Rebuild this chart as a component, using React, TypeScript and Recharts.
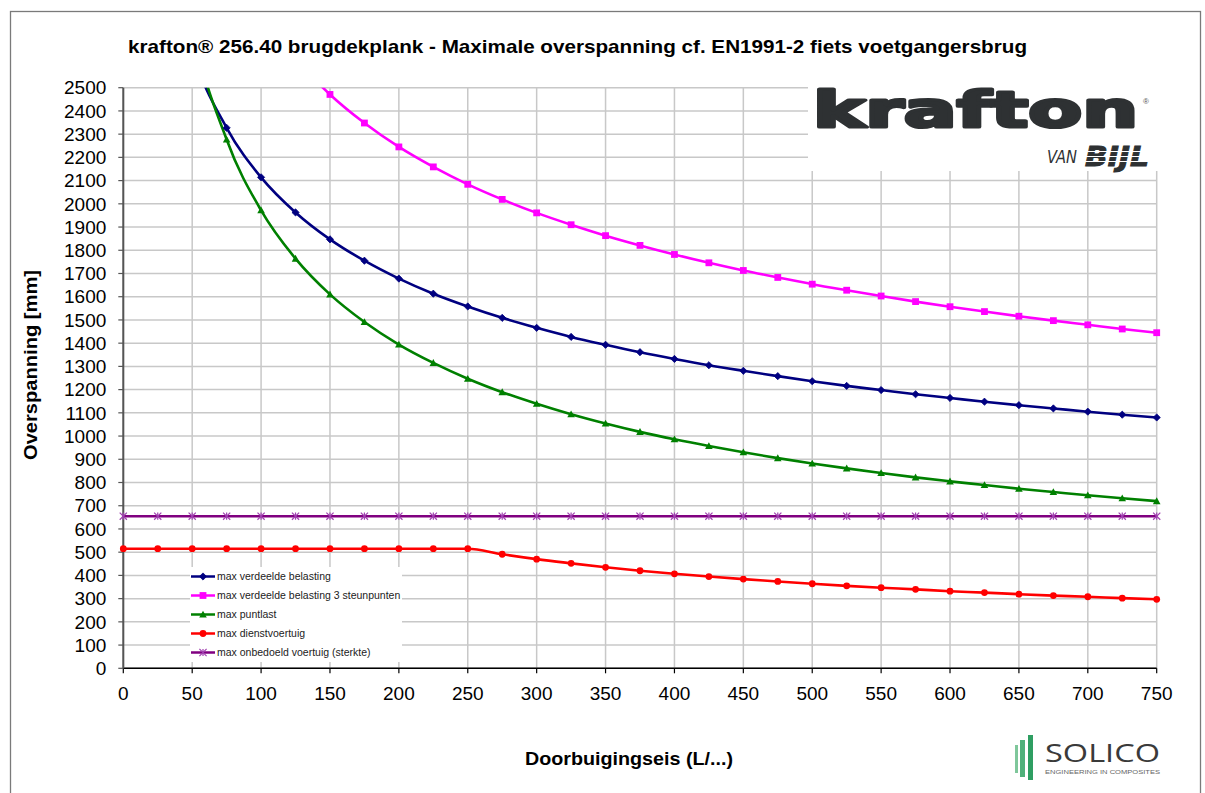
import React from 'react';
import { LineChart, Line, XAxis, YAxis, CartesianGrid, Legend } from 'recharts';

const xValues = [0, 25, 50, 75, 100, 125, 150, 175, 200, 225, 250, 275, 300, 325, 350, 375, 400, 425, 450, 475, 500, 525, 550, 575, 600, 625, 650, 675, 700, 725, 750];

const verdeeld = [null, 3356, 2664, 2327, 2114, 1963, 1847, 1755, 1678, 1613, 1558, 1509, 1466, 1427, 1393, 1361, 1332, 1305, 1281, 1258, 1236, 1216, 1198, 1180, 1164, 1148, 1133, 1119, 1105, 1092, 1080];
const verdeeld3 = [null, 4490, 3564, 3114, 2829, 2626, 2471, 2348, 2245, 2159, 2084, 2019, 1961, 1910, 1863, 1821, 1782, 1746, 1713, 1683, 1654, 1628, 1603, 1579, 1557, 1536, 1516, 1497, 1479, 1461, 1445];
const puntlast = [null, 3944, 2789, 2277, 1972, 1764, 1610, 1491, 1394, 1315, 1247, 1189, 1139, 1094, 1054, 1018, 986, 957, 930, 905, 882, 861, 841, 822, 805, 789, 773, 759, 745, 732, 720];
const dienstvoertuig = [515, 515, 515, 515, 515, 515, 515, 515, 515, 515, 515, 491, 470, 452, 435, 420, 407, 395, 384, 374, 364, 355, 347, 340, 332, 326, 319, 313, 308, 302, 297];
const onbedoeld = [655, 655, 655, 655, 655, 655, 655, 655, 655, 655, 655, 655, 655, 655, 655, 655, 655, 655, 655, 655, 655, 655, 655, 655, 655, 655, 655, 655, 655, 655, 655];

const xTicks = [0, 50, 100, 150, 200, 250, 300, 350, 400, 450, 500, 550, 600, 650, 700, 750];
const yTicks = [0, 100, 200, 300, 400, 500, 600, 700, 800, 900, 1000, 1100, 1200, 1300, 1400, 1500, 1600, 1700, 1800, 1900, 2000, 2100, 2200, 2300, 2400, 2500];

const seriesNames = {
  verdeeld: 'max verdeelde belasting',
  verdeeld3: 'max verdeelde belasting 3 steunpunten',
  puntlast: 'max puntlast',
  dienstvoertuig: 'max dienstvoertuig',
  onbedoeld: 'max onbedoeld voertuig (sterkte)',
};

const data = xValues.map((x, i) => ({
  x,
  verdeeld: verdeeld[i],
  verdeeld3: verdeeld3[i],
  puntlast: puntlast[i],
  dienstvoertuig: dienstvoertuig[i],
  onbedoeld: onbedoeld[i],
}));

type Shape = 'diamond' | 'square' | 'triangle' | 'circle' | 'star';

const series: { key: keyof typeof seriesNames; color: string; marker: string; shape: Shape; size: number }[] = [
  { key: 'verdeeld', color: '#000080', marker: '#000080', shape: 'diamond', size: 3.6 },
  { key: 'verdeeld3', color: '#FF00FF', marker: '#FF00FF', shape: 'square', size: 3.4 },
  { key: 'puntlast', color: '#008000', marker: '#008000', shape: 'triangle', size: 3.8 },
  { key: 'dienstvoertuig', color: '#FF0000', marker: '#FF0000', shape: 'circle', size: 3.4 },
  { key: 'onbedoeld', color: '#800080', marker: '#a040b0', shape: 'star', size: 3.6 },
];

function Marker({ shape, cx, cy, color, s }: { shape: Shape; cx: number; cy: number; color: string; s: number }) {
  if (shape === 'diamond') {
    return <path d={`M${cx},${cy - s}L${cx + s},${cy}L${cx},${cy + s}L${cx - s},${cy}Z`} fill={color} stroke={color} strokeWidth={0.8} />;
  }
  if (shape === 'square') {
    return <rect x={cx - s} y={cy - s} width={2 * s} height={2 * s} fill={color} />;
  }
  if (shape === 'triangle') {
    return <path d={`M${cx},${cy - s}L${cx + s},${cy + s * 0.8}L${cx - s},${cy + s * 0.8}Z`} fill={color} />;
  }
  if (shape === 'circle') {
    return <circle cx={cx} cy={cy} r={s} fill={color} />;
  }
  return (
    <g stroke={color} strokeWidth={1.2}>
      <line x1={cx - s} y1={cy - s} x2={cx + s} y2={cy + s} />
      <line x1={cx - s} y1={cy + s} x2={cx + s} y2={cy - s} />
      <line x1={cx} y1={cy - s} x2={cx} y2={cy + s} />
    </g>
  );
}

const makeDot = (shape: Shape, color: string, s: number) => (props: any) => {
  const { cx, cy, index } = props;
  if (cx == null || cy == null || isNaN(cx) || isNaN(cy) || props.value == null) {
    return <g key={`e-${index}`} />;
  }
  return (
    <g key={`d-${index}`}>
      <Marker shape={shape} cx={cx} cy={cy} color={color} s={s} />
    </g>
  );
};

const FONT = '"Liberation Sans", Arial, Helvetica, sans-serif';

const renderLegend = () => (
  <div style={{ background: '#fff', width: 212, fontFamily: FONT, fontSize: 10.5, color: '#222' }}>
    {series.map((s) => (
      <div key={s.key} style={{ height: 19, display: 'flex', alignItems: 'center' }}>
        <svg width={26} height={19} style={{ display: 'block' }}>
          <line x1={1} y1={9.5} x2={25} y2={9.5} stroke={s.color} strokeWidth={2.5} />
          <Marker shape={s.shape} cx={13} cy={9.5} color={s.marker} s={s.size} />
        </svg>
        <span style={{ marginLeft: 1, whiteSpace: 'nowrap' }}>{seriesNames[s.key]}</span>
      </div>
    ))}
  </div>
);

export default function App() {
  return (
    <div style={{ position: 'absolute', left: 0, top: 0, width: 1205, height: 793, background: '#fff', overflow: 'hidden' }}>
      <LineChart
        width={1205}
        height={793}
        data={data}
        margin={{ top: 87.7, right: 48.3, bottom: 84.7, left: 43.3 }}
      >
        <CartesianGrid stroke="#c8c8c8" strokeWidth={1.5} />
        <XAxis
          dataKey="x"
          type="number"
          domain={[0, 750]}
          ticks={xTicks}
          interval={0}
          height={40}
          tickSize={5}
          tickMargin={13}
          axisLine={{ stroke: '#000', strokeWidth: 1.5 }}
          tickLine={{ stroke: '#000', strokeWidth: 1.2 }}
          tick={{ fontSize: 19, fill: '#000', fontFamily: FONT }}
        />
        <YAxis
          type="number"
          domain={[0, 2500]}
          allowDataOverflow
          ticks={yTicks}
          interval={0}
          width={80}
          tickSize={5}
          tickMargin={12}
          axisLine={{ stroke: '#555', strokeWidth: 2 }}
          tickLine={{ stroke: '#555', strokeWidth: 1.2 }}
          tick={{ fontSize: 19, fill: '#000', fontFamily: FONT }}
        />
        <Legend
          layout="vertical"
          align="center"
          verticalAlign="middle"
          content={renderLegend}
          wrapperStyle={{ position: 'absolute', left: 190, top: 566.5, width: 212 }}
        />
        {series.map((s) => (
          <Line
            key={s.key}
            dataKey={s.key}
            name={seriesNames[s.key]}
            type="monotone"
            stroke={s.color}
            strokeWidth={2.6}
            dot={makeDot(s.shape, s.marker, s.size)}
            activeDot={false}
            isAnimationActive={false}
          />
        ))}
      </LineChart>
      <svg
        width={1205}
        height={793}
        style={{ position: 'absolute', left: 0, top: 0, pointerEvents: 'none' }}
      >
        <rect x={10.5} y={11.5} width={1190} height={800} fill="none" stroke="#7a7a7a" strokeWidth={1.3} />
        <text x={577.5} y={53} textAnchor="middle" fontFamily={FONT} fontWeight="bold" fontSize={18.5} fill="#000" textLength={899} lengthAdjust="spacingAndGlyphs">
          krafton® 256.40 brugdekplank - Maximale overspanning cf. EN1991-2 fiets voetgangersbrug
        </text>
        <text x={629} y={765} textAnchor="middle" fontFamily={FONT} fontWeight="bold" fontSize={18.5} fill="#000" textLength={208} lengthAdjust="spacingAndGlyphs">
          Doorbuigingseis (L/...)
        </text>
        <text transform="translate(37,365) rotate(-90)" textAnchor="middle" fontFamily={FONT} fontWeight="bold" fontSize={18.5} fill="#000" textLength={190} lengthAdjust="spacingAndGlyphs">
          Overspanning [mm]
        </text>
        {/* krafton logo */}
        <rect x={808} y={86} width={351} height={85} fill="#fff" />
        <text x={813} y={127} fontFamily='"DejaVu Sans", sans-serif' fontWeight="bold" fontSize={49} fill="#2e3133" stroke="#2e3133" strokeWidth={3.2} strokeLinejoin="round" textLength={325} lengthAdjust="spacingAndGlyphs">
          krafton
        </text>
        <text x={1143} y={104} fontFamily={FONT} fontSize={8} fill="#555">®</text>
        <text x={1047} y={163} fontFamily='"DejaVu Sans", sans-serif' fontStyle="italic" fontSize={18} fill="#2e3133" textLength={30} lengthAdjust="spacingAndGlyphs">
          VAN
        </text>
        <text x={1085} y={166} fontFamily='"DejaVu Sans", sans-serif' fontStyle="italic" fontWeight="bold" fontSize={27} fill="#2e3133" stroke="#2e3133" strokeWidth={1} textLength={64} lengthAdjust="spacingAndGlyphs">
          BIJL
        </text>
        <line x1={1083} y1={151.5} x2={1152} y2={151.5} stroke="#fff" strokeWidth={1} />
        <line x1={1083} y1={156.5} x2={1152} y2={156.5} stroke="#fff" strokeWidth={1} />
        <line x1={1083} y1={161.5} x2={1152} y2={161.5} stroke="#fff" strokeWidth={1} />
        {/* SOLICO logo */}
        <rect x={1015} y={745} width={3} height={28} fill="#7fc79b" />
        <rect x={1020} y={740} width={5} height={37} fill="#4fb17a" />
        <rect x={1028} y={735} width={5} height={45} fill="#2e9e62" />
        <text x={1045} y={762} fontFamily='"Open Sans", "DejaVu Sans", sans-serif' fontWeight={400} fontSize={25} fill="#3a3a3a" textLength={115} lengthAdjust="spacingAndGlyphs">
          SOLICO
        </text>
        <text x={1045} y={774} fontFamily={FONT} fontSize={5} fill="#666" textLength={115} lengthAdjust="spacingAndGlyphs">
          ENGINEERING IN COMPOSITES
        </text>
      </svg>
    </div>
  );
}
